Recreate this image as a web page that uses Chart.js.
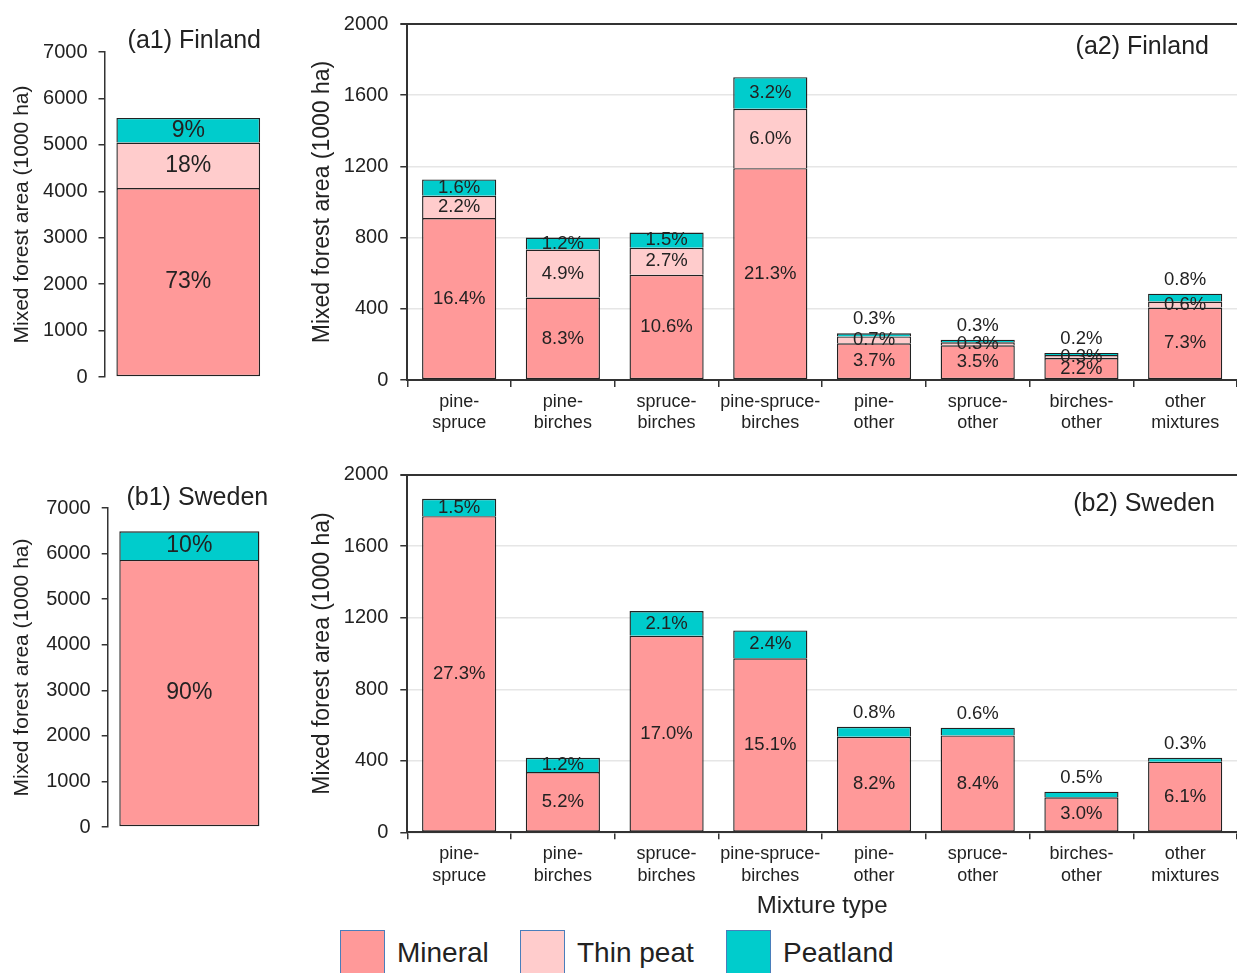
<!DOCTYPE html>
<html>
<head>
<meta charset="utf-8">
<script src="https://cdn.jsdelivr.net/npm/chart.js@4"></script>
<style>
  body { margin: 0; background: #fff; width: 1237px; height: 973px; overflow: hidden; position: relative; font-family: "Liberation Sans", Arial, sans-serif; color: #222; }
  .panel { position: absolute; }
  .lgbox { position: absolute; top: 930px; width: 43px; height: 60px; border: 1.5px solid #4a7ebb; }
  .lgtxt { position: absolute; top: 935px; font-size: 28px; line-height: 36px; }
</style>
</head>
<body>
<canvas id="a1" class="panel" width="290" height="400" style="left:0;top:0"></canvas>
<canvas id="a2" class="panel" width="947" height="440" style="left:290px;top:0"></canvas>
<canvas id="b1" class="panel" width="290" height="400" style="left:0;top:450px"></canvas>
<canvas id="b2" class="panel" width="947" height="475" style="left:290px;top:450px"></canvas>

<div class="lgbox" style="left:340px;background:#FF9999"></div>
<div class="lgtxt" style="left:397px">Mineral</div>
<div class="lgbox" style="left:520px;background:#FFCCCC"></div>
<div class="lgtxt" style="left:577px">Thin peat</div>
<div class="lgbox" style="left:726px;background:#00CCCC"></div>
<div class="lgtxt" style="left:783px">Peatland</div>

<script>
// data (1000 ha)
const mixtures = [['pine-', 'spruce'], ['pine-', 'birches'], ['spruce-', 'birches'], ['pine-spruce-', 'birches'],
                  ['pine-', 'other'], ['spruce-', 'other'], ['birches-', 'other'], ['other', 'mixtures']];

const finTotalMineral = [4070];
const finTotalThin = [980];
const finTotalPeat = [530];
const finTotalLabels = [['73%'], ['18%'], ['9%']];

const sweTotalMineral = [5860];
const sweTotalThin = [0];
const sweTotalPeat = [630];
const sweTotalLabels = [['90%'], [''], ['10%']];

const finMineral = [910, 463, 591, 1190, 206, 195, 123, 407];
const finThin    = [125, 270, 152, 334, 39, 17, 17, 34];
const finPeat    = [92, 67, 85, 177, 17, 14, 11, 44];
const finMineralPct = ['16.4%', '8.3%', '10.6%', '21.3%', '3.7%', '3.5%', '2.2%', '7.3%'];
const finThinPct    = ['2.2%', '4.9%', '2.7%', '6.0%', '0.7%', '0.3%', '0.3%', '0.6%'];
const finPeatPct    = ['1.6%', '1.2%', '1.5%', '3.2%', '0.3%', '0.3%', '0.2%', '0.8%'];

const sweMineral = [1768, 337, 1099, 973, 534, 542, 196, 395];
const sweThin    = [0, 0, 0, 0, 0, 0, 0, 0];
const swePeat    = [97, 80, 138, 156, 56, 43, 31, 22];
const sweMineralPct = ['27.3%', '5.2%', '17.0%', '15.1%', '8.2%', '8.4%', '3.0%', '6.1%'];
const sweThinPct    = ['', '', '', '', '', '', '', ''];
const swePeatPct    = ['1.5%', '1.2%', '2.1%', '2.4%', '0.8%', '0.6%', '0.5%', '0.3%'];

const FONT = '"Liberation Sans", Arial, sans-serif';
const colMineral = '#FF9999';
const colThin = '#FFCCCC';
const colPeat = '#00CCCC';
const axisCol = '#333';

Chart.defaults.font.family = FONT;
Chart.defaults.color = '#222';

// percentage text on each segment, peat label goes above the bar if too thin
const barLabels = {
  id: 'barLabels',
  afterDatasetsDraw(chart, args, opts) {
    const ctx = chart.ctx;
    ctx.save();
    ctx.font = opts.size + 'px ' + FONT;
    ctx.fillStyle = '#222';
    ctx.textAlign = 'center';
    ctx.textBaseline = 'middle';
    chart.data.datasets.forEach((ds, di) => {
      const meta = chart.getDatasetMeta(di);
      meta.data.forEach((bar, i) => {
        const txt = ds.pct[i];
        if (!txt) return;
        let y = (bar.y + bar.base) / 2;
        if (di === 2 && bar.base - bar.y < 11) y = bar.y - 14;
        ctx.fillText(txt, bar.x, y);
      });
    });
    ctx.restore();
  }
};

// panel title, e.g. "(a2) Finland"
const panelTitle = {
  id: 'panelTitle',
  afterDraw(chart, args, opts) {
    const ctx = chart.ctx;
    const a = chart.chartArea;
    ctx.save();
    ctx.font = '25px ' + FONT;
    ctx.fillStyle = '#222';
    ctx.textBaseline = 'middle';
    ctx.textAlign = opts.align;
    let x = opts.align === 'right' ? a.right : (a.left + a.right) / 2;
    ctx.fillText(opts.text, x + opts.dx, a.top + opts.dy);
    ctx.restore();
  }
};

// only the top edge separates stacked segments, so lines do not double up
function segBorder(bottom) {
  return c => c.raw ? { top: 1.4, left: 1.4, right: 1.4, bottom: bottom } : 0;
}

function makeDatasets(mineral, thin, peat, pm, pt, pp, barPct) {
  const base = {
    borderColor: '#222',
    borderSkipped: false,
    categoryPercentage: 1,
    barPercentage: barPct
  };
  return [
    Object.assign({ label: 'Mineral', data: mineral, backgroundColor: colMineral, pct: pm, borderWidth: segBorder(1.4) }, base),
    Object.assign({ label: 'Thin peat', data: thin, backgroundColor: colThin, pct: pt, borderWidth: segBorder(0) }, base),
    Object.assign({ label: 'Peatland', data: peat, backgroundColor: colPeat, pct: pp, borderWidth: segBorder(0) }, base)
  ];
}

const plainTick = v => String(v);

function totalChart(id, mineral, thin, peat, labels, title, pad, yWidth) {
  new Chart(document.getElementById(id), {
    type: 'bar',
    data: {
      labels: [''],
      datasets: makeDatasets(mineral, thin, peat, labels[0], labels[1], labels[2], 0.858)
    },
    plugins: [barLabels, panelTitle],
    options: {
      responsive: false,
      animation: false,
      layout: { padding: pad },
      plugins: {
        legend: { display: false },
        tooltip: { enabled: false },
        barLabels: { size: 23 },
        panelTitle: title
      },
      scales: {
        x: { stacked: true, display: false },
        y: {
          stacked: true,
          min: 0, max: 7000,
          ticks: { stepSize: 1000, padding: 11, font: { size: 20 }, color: '#222', callback: plainTick },
          grid: { drawOnChartArea: false, tickLength: 6, color: axisCol, lineWidth: 1.5 },
          border: { color: axisCol, width: 1.5 },
          title: { display: true, text: 'Mixed forest area (1000 ha)', font: { size: 21 }, padding: { top: 10, bottom: 0 }, color: '#222' },
          afterFit: s => { s.width = yWidth; }
        }
      }
    }
  });
}

function typeChart(id, mineral, thin, peat, pm, pt, pp, title, pad, yWidth, xHeight, xTitle) {
  new Chart(document.getElementById(id), {
    type: 'bar',
    data: {
      labels: mixtures,
      datasets: makeDatasets(mineral, thin, peat, pm, pt, pp, 0.715)
    },
    plugins: [barLabels, panelTitle],
    options: {
      responsive: false,
      animation: false,
      layout: { padding: pad },
      plugins: {
        legend: { display: false },
        tooltip: { enabled: false },
        barLabels: { size: 18.5 },
        panelTitle: title
      },
      scales: {
        x: {
          stacked: true,
          ticks: { padding: 4, font: { size: 18, lineHeight: 1.2 }, color: '#222', maxRotation: 0, autoSkip: false },
          grid: { offset: true, drawOnChartArea: false, tickLength: 7, color: axisCol, lineWidth: 1.5 },
          border: { color: axisCol, width: 2 },
          title: { display: !!xTitle, text: xTitle || '', font: { size: 24 }, padding: { top: 0, bottom: 4.6 }, color: '#222' },
          afterFit: s => { s.height = xHeight; }
        },
        y: {
          stacked: true,
          min: 0, max: 2000,
          ticks: { stepSize: 400, padding: 12, font: { size: 20 }, color: '#222', callback: plainTick },
          grid: {
            tickLength: 7,
            color: c => (c.tick && c.tick.value === 2000) ? axisCol : '#e6e6e6',
            tickColor: axisCol,
            lineWidth: c => (c.tick && c.tick.value === 2000) ? 2 : 1.5
          },
          border: { color: axisCol, width: 2 },
          title: { display: true, text: 'Mixed forest area (1000 ha)', font: { size: 23 }, padding: { top: 19, bottom: 0 }, color: '#222' },
          afterFit: s => { s.width = yWidth; }
        }
      }
    }
  });
}

totalChart('a1', finTotalMineral, finTotalThin, finTotalPeat, finTotalLabels,
  { text: '(a1) Finland', align: 'center', dx: 6, dy: -11 },
  { top: 52, bottom: 22, right: 18, left: 0 }, 104.5);

totalChart('b1', sweTotalMineral, sweTotalThin, sweTotalPeat, sweTotalLabels,
  { text: '(b1) Sweden', align: 'center', dx: 8, dy: -10 },
  { top: 58, bottom: 18, right: 19, left: 0 }, 107.7);

typeChart('a2', finMineral, finThin, finPeat, finMineralPct, finThinPct, finPeatPct,
  { text: '(a2) Finland', align: 'right', dx: -28, dy: 23 },
  { top: 22.7, bottom: 0, right: 0, left: 0 }, 117.3, 60, null);

typeChart('b2', sweMineral, sweThin, swePeat, sweMineralPct, sweThinPct, swePeatPct,
  { text: '(b2) Sweden', align: 'right', dx: -22, dy: 29 },
  { top: 24.7, bottom: 0, right: 0, left: 0 }, 117.3, 92.7, 'Mixture type');
</script>
</body>
</html>
